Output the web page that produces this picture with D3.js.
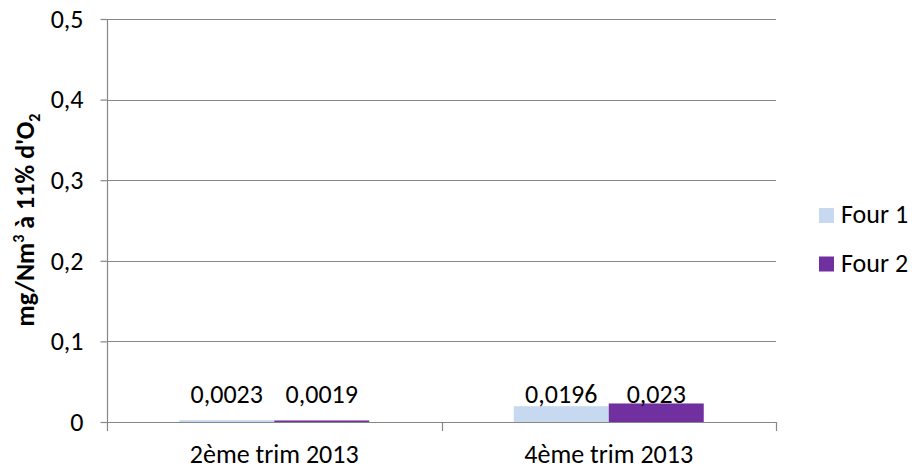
<!DOCTYPE html>
<html><head><meta charset="utf-8">
<script src="https://cdn.jsdelivr.net/npm/d3@7"></script>
<style>body{margin:0;background:#fff}svg{display:block}text{font-family:Carlito,Calibri,"Liberation Sans",sans-serif;fill:#000}</style>
</head><body><svg id="c" width="922" height="469"></svg>
<script>
const categories = ["2ème trim 2013", "4ème trim 2013"];
const seriesNames = ["Four 1", "Four 2"];
const four1 = [0.0023, 0.0196];
const four2 = [0.0019, 0.023];
const labels1 = ["0,0023", "0,0196"];
const labels2 = ["0,0019", "0,023"];
const yTicks = [0, 0.1, 0.2, 0.3, 0.4, 0.5];
const colors = ["#C6D9F1", "#7030A0"];

const FONT = "Carlito, Calibri, 'Liberation Sans', sans-serif";
const FS = 26;
const svg = d3.select("#c");
const L = 107, R = 776, T = 19, B = 422;
const x = d3.scaleBand().domain(categories).range([L, R]).paddingInner(0.432).paddingOuter(0.216);
const xs = d3.scaleBand().domain(seriesNames).range([0, x.bandwidth()]);
const y = d3.scaleLinear().domain([0, 0.5]).range([B, T]);
const fmt = v => v === 0 ? "0" : d3.format(".1f")(v).replace(".", ",");
const GRID = "#878787";

// gridlines
svg.append("g").selectAll("line").data(yTicks).join("line")
  .attr("x1", L).attr("x2", R).attr("y1", d => Math.round(y(d)) + 0.5).attr("y2", d => Math.round(y(d)) + 0.5)
  .attr("stroke", GRID).attr("stroke-width", 1.2);

// y axis
const ya = svg.append("g").attr("transform", `translate(${L + 0.5},0)`)
  .call(d3.axisLeft(y).tickValues(yTicks).tickFormat(fmt).tickSize(7).tickPadding(17))
  .attr("font-family", FONT).attr("font-size", FS);
ya.select(".domain").attr("stroke", GRID).attr("stroke-width", 1.2).attr("d", `M0,${T}V${B + 9}`);
ya.selectAll(".tick line").attr("stroke", GRID).attr("stroke-width", 1.2);
ya.selectAll(".tick text").attr("fill", "#000");

// bars
const series = [four1, four2];
const labs = [labels1, labels2];
series.forEach((vals, si) => {
  const g = svg.append("g");
  g.selectAll("rect").data(vals).join("rect")
    .attr("x", (d, i) => x(categories[i]) + xs(seriesNames[si]))
    .attr("width", xs.bandwidth())
    .attr("y", d => y(d)).attr("height", d => B - y(d))
    .attr("fill", colors[si]);
  g.selectAll("text").data(vals).join("text")
    .attr("x", (d, i) => x(categories[i]) + xs(seriesNames[si]) + xs.bandwidth() / 2)
    .attr("y", y(0) - 19)
    .attr("text-anchor", "middle").attr("font-size", FS)
    .text((d, i) => labs[si][i]);
});

// x axis
const xa = svg.append("g").attr("transform", `translate(0,${B + 0.5})`)
  .call(d3.axisBottom(x).tickSize(0).tickPadding(22))
  .attr("font-family", FONT).attr("font-size", FS);
xa.select(".domain").remove();
xa.selectAll(".tick text").attr("fill", "#000");
svg.append("line").attr("x1", L).attr("x2", R + 0.5).attr("y1", B + 0.5).attr("y2", B + 0.5)
  .attr("stroke", GRID).attr("stroke-width", 1.2);
const bounds = [(x(categories[0]) + x.bandwidth() + x(categories[1])) / 2, R];
svg.append("g").selectAll("line").data(bounds).join("line")
  .attr("x1", d => Math.round(d) + 0.5).attr("x2", d => Math.round(d) + 0.5)
  .attr("y1", B).attr("y2", B + 9).attr("stroke", GRID).attr("stroke-width", 1.2);

// y title
const t = svg.append("text").attr("transform", `translate(33.5,${220}) rotate(-90)`)
  .attr("text-anchor", "middle").attr("font-size", FS).attr("font-weight", "bold");
t.append("tspan").text("mg/Nm");
t.append("tspan").attr("font-size", 16).attr("dy", -10).text("3");
t.append("tspan").attr("dy", 10).text(" à 11% d'O");
t.append("tspan").attr("font-size", 16).attr("dy", 6).text("2");

// legend
const lg = svg.append("g").selectAll("g").data(seriesNames).join("g")
  .attr("transform", (d, i) => `translate(819,${208 + i * 48.5})`);
lg.append("rect").attr("width", 15).attr("height", 15).attr("fill", (d, i) => colors[i]);
lg.append("text").attr("x", 22).attr("y", 15.3).attr("font-size", FS).text(d => d);
</script></body></html>
